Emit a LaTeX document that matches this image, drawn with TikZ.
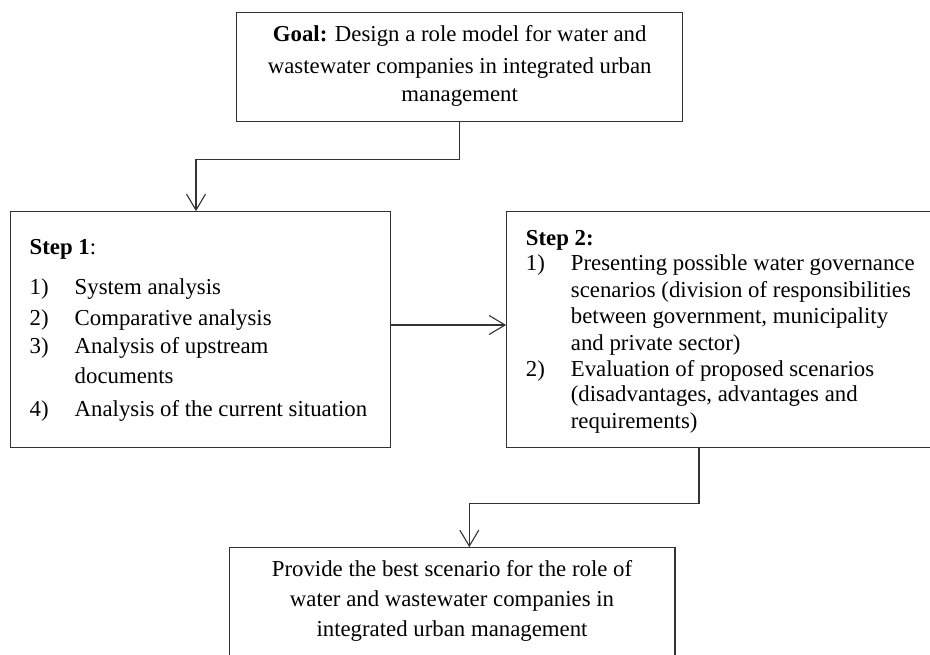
\documentclass[tikz,border=0pt]{standalone}
\usepackage{fontspec}
\setmainfont{Liberation Serif}
\usetikzlibrary{arrows.meta}
\definecolor{linec}{HTML}{333333}
\begin{document}
\begin{tikzpicture}[x=1pt,y=-1pt,
  box/.style={draw=linec, line width=1.1pt, rectangle, inner sep=0pt, fill=none},
  conn/.style={draw=linec, line width=1.1pt, -{Straight Barb[length=16pt,width=19pt,line width=1.1pt]}},
  lt/.style={anchor=base west, inner sep=0pt, font=\fontsize{22.8}{28}\selectfont},
  ct/.style={anchor=base, inner sep=0pt, font=\fontsize{22.8}{28}\selectfont}]
\useasboundingbox (0,0) rectangle (930,654);
\clip (0,0) rectangle (930,654);
\fill[white] (0,0) rectangle (930,654);
% boxes
\node[box, minimum width=446pt, minimum height=109pt] (goal) at (459.7,67.2) {};
\node[box, minimum width=380.4pt, minimum height=236pt] (step1) at (200.35,329.7) {};
\node[box, minimum width=433.3pt, minimum height=236pt] (step2) at (723.35,329.7) {};
\node[box, minimum width=445.7pt, minimum height=132pt] (best) at (452.15,613.7) {};
% goal text
\node[ct] (g1) at (459.7,41) {\textbf{Goal:} Design a role model for water and};
\node[ct] (g2) at (459.7,73.3) {wastewater companies in integrated urban};
\node[ct] (g3) at (459.7,101.7) {management};
% step 1 text
\node[lt] (s1h) at (29.5,254.3) {\textbf{Step 1}:};
\node[lt] (s1n1) at (29.5,294) {1)};
\node[lt] (s1t1) at (74.5,294) {System analysis};
\node[lt] (s1n2) at (29.5,325) {2)};
\node[lt] (s1t2) at (74.5,325) {Comparative analysis};
\node[lt] (s1n3) at (29.5,353.3) {3)};
\node[lt] (s1t3) at (74.5,353.3) {Analysis of upstream};
\node[lt] (s1t3b) at (74.5,383.3) {documents};
\node[lt] (s1n4) at (29.5,416.7) {4)};
\node[lt] (s1t4) at (74.5,416.7) {Analysis of the current situation};
% step 2 text
\node[lt] (s2h) at (525.7,245) {\textbf{Step 2:}};
\node[lt] (s2n1) at (525.7,270) {1)};
\node[lt] (s2t1) at (570.7,270) {Presenting possible water governance};
\node[lt] (s2t1b) at (570.7,297.7) {scenarios (division of responsibilities};
\node[lt] (s2t1c) at (570.7,323) {between government, municipality};
\node[lt] (s2t1d) at (570.7,350) {and private sector)};
\node[lt] (s2n2) at (525.7,376.7) {2)};
\node[lt] (s2t2) at (570.7,376.7) {Evaluation of proposed scenarios};
\node[lt] (s2t2b) at (570.7,401.7) {(disadvantages, advantages and};
\node[lt] (s2t2c) at (570.7,428) {requirements)};
% bottom text
\node[ct] (b1) at (452,576.7) {Provide the best scenario for the role of};
\node[ct] (b2) at (452,606.7) {water and wastewater companies in};
\node[ct] (b3) at (452,636.7) {integrated urban management};
% connectors
\draw[conn] (goal.south) -- ++(0,37.3) -| ([xshift=-4.35pt]step1.north);
\draw[conn] ([yshift=4.7pt]step1.east) -- ([yshift=4.7pt]step2.west);
\draw[conn] ([xshift=-24.35pt]step2.south) -- ++(0,55.6) -| ([xshift=17.15pt]best.north);
\end{tikzpicture}
\end{document}
